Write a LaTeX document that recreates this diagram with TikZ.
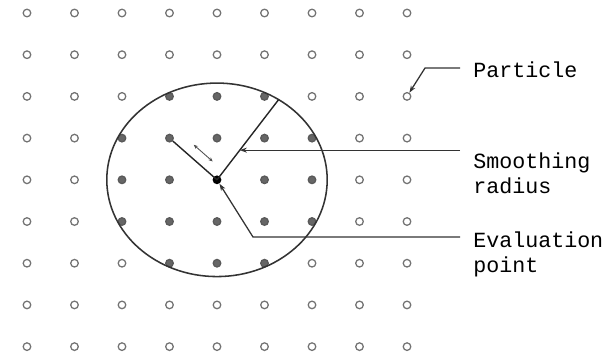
\documentclass[tikz,border=0pt]{standalone}
\usepackage{fontspec}
\setmonofont{Liberation Mono}
\usetikzlibrary{calc,arrows.meta}

\begin{document}
\begin{tikzpicture}[x=1.1875cm, y=-1.0425cm,
  particle/.style={circle, draw=black!55, fill=white, line width=0.9pt, inner sep=0pt, minimum size=0.19cm},
  inparticle/.style={particle, draw=black!65, fill=black!60},
  evalpt/.style={circle, fill=black, inner sep=0pt, minimum size=0.22cm},
  leader/.style={draw=black!80, line width=0.9pt},
  tip/.style={-{Stealth[length=5pt,width=3.5pt]}},
  tag/.style={font=\ttfamily\fontsize{15.4}{17.8}\selectfont, align=left, inner sep=0pt, anchor=base west}]
  \useasboundingbox (-0.568,-0.312) rectangle (12.147,8.345);
  % particle grid, the ones inside the support are filled
  \foreach \i in {0,...,8}
    \foreach \j in {0,...,8} {
      \pgfmathtruncatemacro\d{(\i-4)^2+(\j-4)^2}
      \ifnum\d=0
        \node[evalpt] (eval) at (\i,\j) {};
      \else\ifnum\d<6
        \node[inparticle] (p-\i-\j) at (\i,\j) {};
      \else
        \node[particle] (p-\i-\j) at (\i,\j) {};
      \fi\fi
    }
  % support domain
  \draw[draw=black!80, line width=1.1pt] (eval) circle [radius=2.32];
  \coordinate (rim) at ($(eval.center)+(-56:2.32)$);
  \draw[draw=black!85, line width=1pt] (eval.center) -- (rim);
  \draw[draw=black!85, line width=1pt] (p-3-3) -- (eval.center);
  \coordinate (d1) at ($(p-3-3.center)!0.36!(eval.center)+(0.15,-0.2)$);
  \coordinate (d2) at ($(p-3-3.center)!0.76!(eval.center)+(0.15,-0.2)$);
  \draw[black!70, line width=0.6pt, {Stealth[length=3pt,width=2.5pt]}-{Stealth[length=3pt,width=2.5pt]}] (d1) -- (d2);
  % leaders
  \coordinate (pk) at (8.379,1.319);
  \coordinate (pl) at (9.116,1.319);
  \draw[leader, tip] (pl) -- (pk) -- (p-8-2);
  \coordinate (rmark) at ($(eval.center)!0.37!(rim)$);
  \coordinate (sl) at (9.116,0);
  \draw[leader, tip] (sl |- rmark) -- (rmark);
  \coordinate (ek) at (4.758,5.372);
  \coordinate (el) at (9.116,5.372);
  \draw[leader, tip] (el) -- (ek) -- (eval);
  % labels
  \node[tag] (particle-lbl) at (9.39,1.535) {Particle};
  \node[tag] (smooth-lbl) at (9.39,4.317) {Smoothing\\radius};
  \node[tag] (eval-lbl) at (9.39,6.211) {Evaluation\\point};
\end{tikzpicture}
\end{document}
